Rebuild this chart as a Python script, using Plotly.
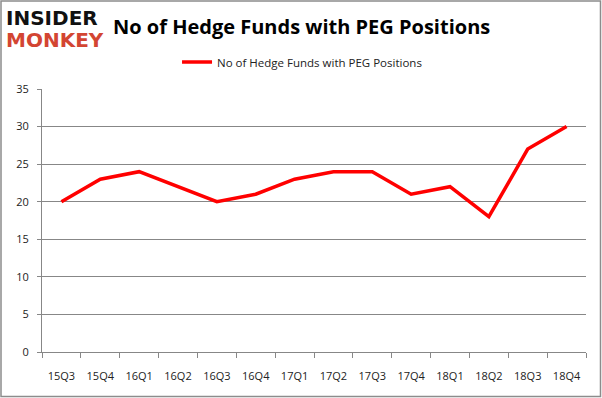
import plotly.graph_objects as go

quarters = ["15Q3", "15Q4", "16Q1", "16Q2", "16Q3", "16Q4", "17Q1", "17Q2",
            "17Q3", "17Q4", "18Q1", "18Q2", "18Q3", "18Q4"]
funds = [20, 23, 24, 22, 20, 21, 23, 24, 24, 21, 22, 18, 27, 30]
series_name = "No of Hedge Funds with PEG Positions"
title_text = "No of Hedge Funds with PEG Positions"

W, H = 602, 398
L, R, T, B = 42, 16, 89, 46
pw, ph = W - L - R, H - T - B

def px_x(x):
    return (x - L) / pw

def px_y(y):
    return (H - B - y) / ph

fig = go.Figure()
fig.add_trace(go.Scatter(
    x=quarters, y=funds, mode="lines", name=series_name,
    line=dict(color="#ff0000", width=3.5),
))

grid = "#878787"
fig.update_layout(
    width=W, height=H, autosize=False,
    margin=dict(l=L, r=R, t=T, b=B),
    paper_bgcolor="white", plot_bgcolor="white",
    font=dict(family="Open Sans, DejaVu Sans, sans-serif", size=11, color="#222222"),
    showlegend=True,
    legend=dict(orientation="h", x=0.478, xanchor="center", y=px_y(62), yanchor="middle",
                font=dict(size=11.5, color="#222"), bgcolor="rgba(0,0,0,0)",
                itemwidth=30),
    xaxis=dict(type="category", showgrid=False, showline=True, linecolor=grid, linewidth=1,
               ticks="outside", ticklen=5, tickcolor=grid, tickson="boundaries",
               ticklabelstandoff=14, tickfont=dict(size=11, color="#222"),
               range=[-0.5, len(quarters) - 0.5]),
    yaxis=dict(range=[0, 35], dtick=5, showgrid=True, gridcolor=grid, gridwidth=1,
               showline=True, linecolor=grid, linewidth=1, ticks="outside", ticklen=4,
               tickcolor=grid, zeroline=False, ticklabelstandoff=6,
               tickfont=dict(size=11, color="#222")),
    shapes=[dict(type="rect", xref="paper", yref="paper",
                 x0=px_x(1), x1=px_x(600.5), y0=px_y(396.5), y1=px_y(1),
                 line=dict(color="#8c8c8c", width=1.5), fillcolor="rgba(0,0,0,0)", layer="below")],
    annotations=[
        dict(text="<b>" + title_text + "</b>", xref="paper", yref="paper",
             x=px_x(301), y=px_y(27), xanchor="center", yanchor="middle",
             showarrow=False, font=dict(size=20, color="#000", family="Open Sans, DejaVu Sans, sans-serif")),
        dict(text="<b>INSIDER</b>", xref="paper", yref="paper",
             x=px_x(4), y=px_y(18), xanchor="left", yanchor="middle",
             showarrow=False, font=dict(size=20, color="#111", family="DejaVu Sans, sans-serif")),
        dict(text="<b>MONKEY</b>", xref="paper", yref="paper",
             x=px_x(4), y=px_y(40), xanchor="left", yanchor="middle",
             showarrow=False, font=dict(size=20, color="#d34532", family="DejaVu Sans, sans-serif")),
    ],
)

fig.write_html("out.html", config={"displayModeBar": False})
with open("out.html", encoding="utf-8") as f:
    html = f.read()
html = html.replace("<head>", "<head><style>html,body{margin:0;padding:0;overflow:hidden;}</style>", 1)
with open("out.html", "w", encoding="utf-8") as f:
    f.write(html)
